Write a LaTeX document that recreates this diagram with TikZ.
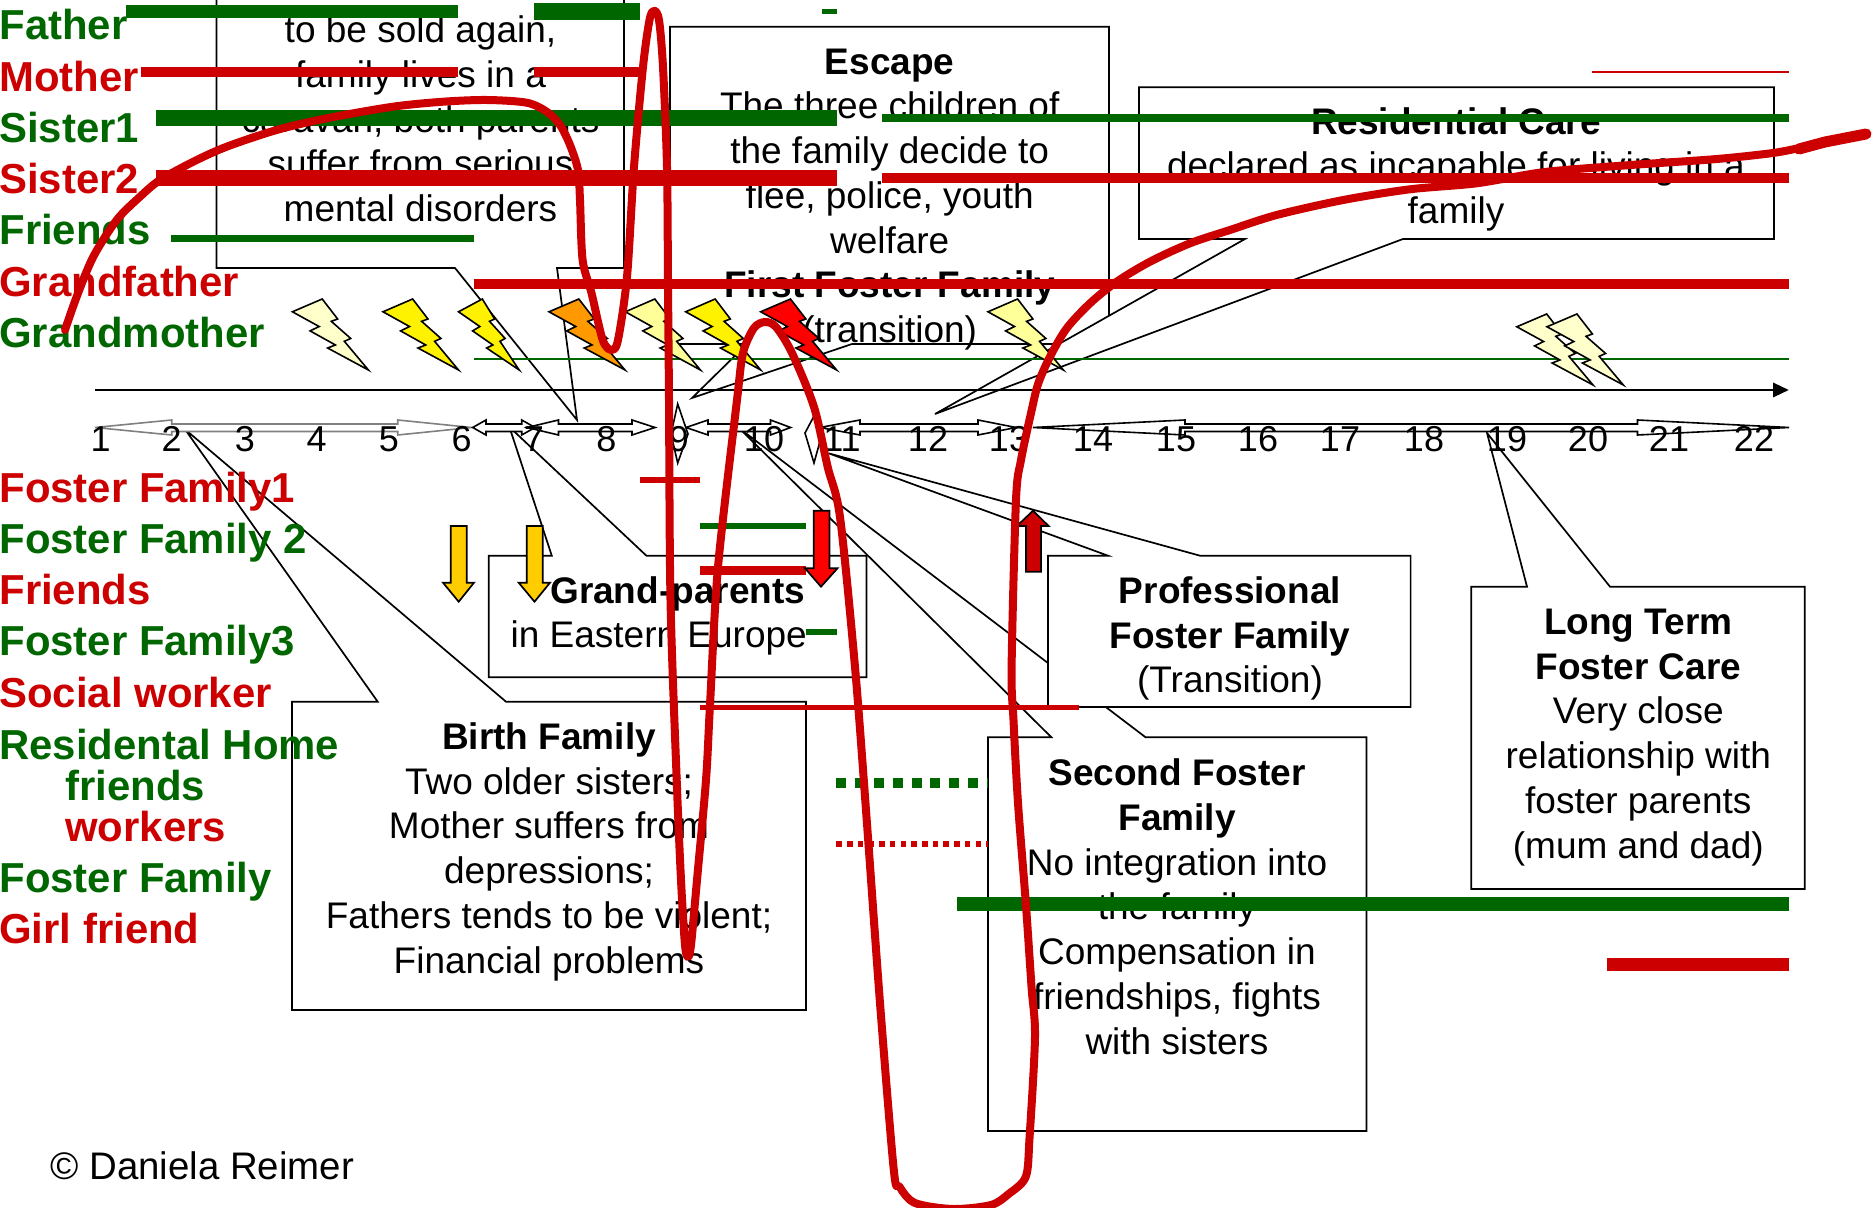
\documentclass[tikz,border=0pt]{standalone}
\usepackage{fontspec}
\setmainfont{Liberation Sans}
\definecolor{lgreen}{HTML}{006600}
\definecolor{lred}{HTML}{CC0000}
\definecolor{boltpale}{HTML}{FFFFCC}
\definecolor{boltlight}{HTML}{FFFF99}
\definecolor{boltorange}{HTML}{FF9900}
\definecolor{amberarrow}{HTML}{FFCC00}
\newcommand{\lifeline}[5]{\draw[color=#1,line width=#5*0.5pt] (#2,#4) -- (#3,#4);}
\newcommand{\boltshape}[5]{%
  \begin{scope}[shift={(#1,#2)},x=#3*0.5pt/216,y=-#4*0.5pt/216]
    \draw[fill=#5,line width=0.8pt,line join=miter]
      (84.72,0) -- (128.6,60.8) -- (110.5,67.97) -- (165.77,120.07) -- (147.67,128.77)
      -- (216,216) -- (100.12,149.15) -- (122.22,139.87) -- (50.22,97.05) -- (76.02,83.82)
      -- (0,38.9) -- cycle;
  \end{scope}}
\newcommand{\dblarrow}[5]{%
  \draw[arrowbox,draw=#1] (#2,427.5) -- (#3,420) -- (#3,424) -- (#4,424) -- (#4,420)
    -- (#5,427.5) -- (#4,435) -- (#4,431.5) -- (#3,431.5) -- (#3,435) -- cycle;}
\tikzset{
  x=0.5pt,y=-0.5pt,
  callout/.style={draw=black,fill=white,line width=0.85pt,line join=miter},
  arrowbox/.style={fill=white,line width=0.8pt,line join=miter},
  blockarrow/.style={draw=black,line width=0.85pt,line join=miter},
  txt/.style={inner sep=0pt,align=center,anchor=base,font=\fontsize{18.5}{22.35}\selectfont},
  num/.style={inner sep=0pt,anchor=base,font=\fontsize{18}{21}\selectfont},
  lbl/.style={inner sep=0pt,anchor=base west,font=\fontsize{20.95}{25}\selectfont\bfseries},
  curve/.style={color=lred,line width=4pt,line cap=round,line join=round},
}
\begin{document}
\begin{tikzpicture}
\useasboundingbox (0,0) rectangle (1876,1208);
\begin{scope}
\clip (0,0) rectangle (1876,1208);

% callout boxes
\draw[callout] (216.5,-10) -- (624,-10) -- (624,268) -- (557,268) -- (577,420) -- (455,268) -- (216.5,268) -- cycle;
\draw[callout] (670,26.7) -- (1109,26.7) -- (1109,344) -- (852,344) -- (692,398) -- (747,344) -- (670,344) -- cycle;
\draw[callout] (1139,87.3) -- (1774,87.3) -- (1774,239) -- (1403,239) -- (935,414) -- (1245,239) -- (1139,239) -- cycle;
\draw[callout] (488.8,555.7) -- (551.8,555.7) -- (509.4,427) -- (646.4,555.7) -- (866.5,555.7) -- (866.5,677.3) -- (488.8,677.3) -- cycle;
\draw[callout] (292,701.7) -- (377.7,701.7) -- (185,429.3) -- (506,701.7) -- (806,701.7) -- (806,1010) -- (292,1010) -- cycle;
\draw[callout] (988,737.3) -- (1051.4,737.3) -- (739,428) -- (1145.6,737.3) -- (1366.4,737.3) -- (1366.4,1131) -- (988,1131) -- cycle;
\draw[callout] (1048,555.7) -- (1108,555.7) -- (828.6,453.3) -- (1200,555.7) -- (1410.6,555.7) -- (1410.6,707) -- (1048,707) -- cycle;
\draw[callout] (1471.3,586.7) -- (1527,586.7) -- (1487,433) -- (1610,586.7) -- (1804.7,586.7) -- (1804.7,889) -- (1471.3,889) -- cycle;

% box texts (a node's base is its last line)
\node[txt] (boxparents) at (420.5,221.5) {to be sold again,\\family lives in a\\caravan, both parents\\suffer from serious\\mental disorders};
\node[txt] (boxescape) at (889.7,342.5) {\textbf{Escape}\\The three children of\\the family decide to\\flee, police, youth\\welfare\\\textbf{First Foster Family}\\(transition)};
\node[txt] (boxresidential) at (1456,223.5) {\textbf{Residential Care}\\declared as incapable for living in a\\family};
\node[txt] (boxgrand) at (677.7,648) {\textbf{Grand-parents}\\\mbox{in Eastern Europe\kern19pt}};
\node[txt] (boxbirth) at (549,973) {\textbf{Birth Family}\\Two older sisters;\\Mother suffers from\\depressions;\\Fathers tends to be violent;\\Financial problems};
\node[txt] (boxsecond) at (1177,1054) {\textbf{Second Foster}\\\textbf{Family}\\No integration into\\the family\\Compensation in\\friendships, fights\\with sisters};
\node[txt] (boxprof) at (1230,693) {\textbf{Professional}\\\textbf{Foster Family}\\(Transition)};
\node[txt] (boxlong) at (1638.3,858) {\textbf{Long Term}\\\textbf{Foster Care}\\Very close\\relationship with\\foster parents\\(mum and dad)};

% timeline
\lifeline{lgreen}{474}{1789}{359.3}{2}
\draw[line width=1.05pt] (95,390) -- (1775,390);
\fill (1773,382.5) -- (1788.7,390) -- (1773,397.5) -- cycle;

\dblarrow{gray}{95}{171.7}{397.7}{471.7}
\dblarrow{black}{472.7}{486}{521.7}{535}
\dblarrow{black}{527}{558.5}{632}{655}
\dblarrow{black}{686}{708}{770.5}{790.6}
\dblarrow{black}{820}{860}{978}{1016}
\dblarrow{black}{1033}{1185}{1637.5}{1789}
\draw[arrowbox,draw=black] (677.7,404) -- (688,434) -- (677.7,463) -- (671,434) -- cycle;
\draw[arrowbox,draw=black] (813.5,417) -- (822,434) -- (814,463) -- (805,433) -- cycle;

\foreach \nx/\nt in {100.7/1,171.7/2,245/3,316.7/4,389/5,461.7/6,534/7,606.5/8,679/9,764/10,842/11,928/12,1009/13,1093/14,1176/15,1258/16,1340/17,1424/18,1507/19,1588/20,1669/21,1754/22}
  \node[num] (n\nt) at (\nx,451.5) {\nt};

% left labels
\node[lbl,text=lgreen] (lfather) at (-1,40) {Father};
\node[lbl,text=lred] (lmother) at (-1,91.5) {Mother};
\node[lbl,text=lgreen] (lsisterone) at (-1,142.5) {Sister1};
\node[lbl,text=lred] (lsistertwo) at (-1,194) {Sister2};
\node[lbl,text=lgreen] (lfriends) at (-1,245) {Friends};
\node[lbl,text=lred] (lgrandfather) at (-1,296.5) {Grandfather};
\node[lbl,text=lgreen] (lgrandmother) at (-1,348) {Grandmother};
\node[lbl,text=lred] (lffone) at (-1,502.5) {Foster Family1};
\node[lbl,text=lgreen] (lfftwo) at (-1,553.5) {Foster Family 2};
\node[lbl,text=lred] (lfriendstwo) at (-1,604.5) {Friends};
\node[lbl,text=lgreen] (lffthree) at (-1,656) {Foster Family3};
\node[lbl,text=lred] (lsocial) at (-1,707) {Social worker};
\node[lbl,text=lgreen] (lresid) at (-1,759) {Residental Home};
\node[lbl,text=lgreen] (lrfriends) at (65,800) {friends};
\node[lbl,text=lred] (lrworkers) at (65,841.5) {workers};
\node[lbl,text=lgreen] (lff) at (-1,892) {Foster Family};
\node[lbl,text=lred] (lgirl) at (-1,943) {Girl friend};

\node[inner sep=0pt,anchor=base west,font=\fontsize{19.2}{22}\selectfont] (copyright) at (50,1179.5) {© Daniela Reimer};

% relationship lines
\lifeline{lgreen}{126}{458}{11.7}{13.3}
\lifeline{lgreen}{534}{640}{11.7}{16.7}
\lifeline{lgreen}{822}{836.6}{11.7}{4.7}
\lifeline{lred}{141}{458}{72.3}{10}
\lifeline{lred}{534}{640}{72.3}{10}
\lifeline{lred}{1592}{1789}{72.3}{1.7}
\lifeline{lgreen}{156}{836.6}{118}{16}
\lifeline{lgreen}{882}{1789}{118}{8}
\lifeline{lred}{156}{836.6}{178}{16}
\lifeline{lred}{882}{1789}{178}{10}
\lifeline{lgreen}{171}{474}{238.7}{6.7}
\lifeline{lred}{473.7}{1789}{284}{9.3}
\lifeline{lred}{640}{700.4}{480.4}{6}
\lifeline{lgreen}{700.4}{806}{525.7}{6.3}
\lifeline{lred}{700.4}{806}{571}{9}
\lifeline{lgreen}{806}{836.6}{632}{5.7}
\lifeline{lred}{700.4}{1078.6}{707.5}{5}
\lifeline{lgreen}{957.3}{1789.3}{904}{13.3}
\lifeline{lred}{1607.3}{1789.3}{964.7}{13.3}
\draw[color=lgreen,line width=4.7pt,dash pattern=on 5pt off 4.4pt] (836.4,783) -- (987.5,783);
\draw[color=lred,line width=2.85pt,dash pattern=on 2.75pt off 2.6pt] (836.4,843.8) -- (987.5,843.8);

% block arrows
\draw[blockarrow,fill=amberarrow] (450.7,526) -- (466.7,526) -- (466.7,582.7) -- (474,582.7) -- (458.7,601.7) -- (443,582.7) -- (450.7,582.7) -- cycle;
\draw[blockarrow,fill=amberarrow] (526.7,526) -- (542.7,526) -- (542.7,582.7) -- (550,582.7) -- (534.5,601.7) -- (518.7,582.7) -- (526.7,582.7) -- cycle;
\draw[blockarrow,fill=red] (813.8,510.7) -- (829.5,510.7) -- (829.5,568.3) -- (837.5,568.3) -- (821,586.7) -- (805,568.3) -- (813.8,568.3) -- cycle;
\draw[blockarrow,fill=lred] (1033,510.7) -- (1048.6,526) -- (1041,526) -- (1041,571.7) -- (1025.9,571.7) -- (1025.9,526) -- (1017,526) -- cycle;

% lightning bolts
\boltshape{292.4}{299}{76}{71}{boltpale}
\boltshape{383}{299}{75.5}{71}{yellow}
\boltshape{458.5}{299}{60.7}{71}{yellow}
\boltshape{549}{299}{76}{71}{boltorange}
\boltshape{625.4}{299}{75}{71}{boltlight}
\boltshape{685.7}{299}{75}{71}{yellow}
\boltshape{760.7}{299}{75.9}{71}{red}
\boltshape{988}{299}{75.4}{71}{boltlight}
\boltshape{1516.8}{314}{76.2}{71}{boltpale}
\boltshape{1547}{314}{76.3}{71}{boltpale}

% freehand curve
\draw[curve] plot[smooth,tension=0.5] coordinates {
 (65,330) (76.7,296.7) (93.3,256.7) (116.7,220) (140,196.7) (160,180) (193.3,161.7)
 (226.7,146.7) (276.7,130) (326.7,118.3) (393,106.7) (443.3,101.7) (486.7,100)
 (526.7,102.7) (546.7,111.7) (560,125) (570,145) (578,170) (580,200) (582.6,260)
 (591.5,293) (602.7,340) (611.6,350) (618,340) (627,277) (634,167) (643,67) (649.5,20)
 (654,10.7) (659,20) (663,67) (667,167) (668,284) (669,400) (670.5,600) (676.7,780)
 (681,880) (685,945) (688,957) (691,945) (697,880) (706,780) (710,705) (718,567)
 (737,400) (743,353) (754,328) (765,322) (776,327) (792,353) (814,407) (827.7,467)
 (840,517) (855,667) (866.5,817) (880,1003) (893.8,1170) (899.5,1186.7) (915,1203)
 (953,1209) (991,1205) (1008.6,1194) (1025.8,1176.7) (1029.6,1136.7) (1035,1036.7)
 (1031.5,986.7) (1025.8,903) (1018,803) (1013.5,720) (1011.6,667) (1016,500) (1021,460)
 (1031.7,410) (1038.3,383.3) (1050,356.7) (1066.7,328.3) (1090,303.3) (1116.7,281.7)
 (1150,261.7) (1190,243.3) (1230,230) (1276.7,215) (1343.3,200) (1410,189.3)
 (1476.7,183.3) (1545,172) (1631,165) (1717,159) (1773,153) (1799,148)
};
\draw[color=lred,line width=5.5pt,line cap=round] (1799,149) -- (1825,142) -- (1866,134);
\end{scope}
\end{tikzpicture}
\end{document}
